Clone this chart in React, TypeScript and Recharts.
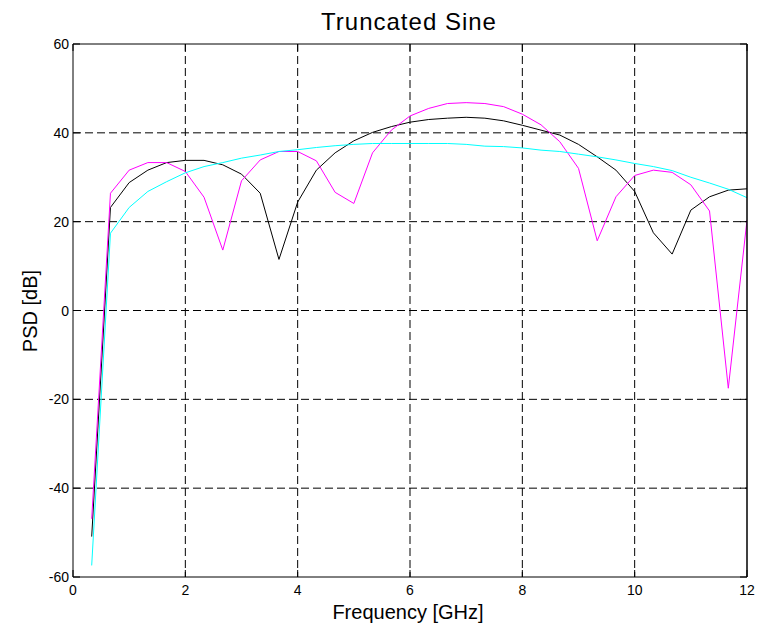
import React from 'react';
import { LineChart, Line, XAxis, YAxis, CartesianGrid } from 'recharts';

const freq = [0.333, 0.667, 1.0, 1.333, 1.667, 2.0, 2.333, 2.667, 3.0, 3.333, 3.667, 4.0, 4.333, 4.667, 5.0, 5.333, 5.667, 6.0, 6.333, 6.667, 7.0, 7.333, 7.667, 8.0, 8.333, 8.667, 9.0, 9.333, 9.667, 10.0, 10.333, 10.667, 11.0, 11.333, 11.667, 12.0];
const blackSeries = [-50.9, 23.2, 28.8, 31.6, 33.3, 33.8, 33.8, 32.8, 30.7, 26.4, 11.5, 24.4, 31.6, 35.5, 38.2, 40.1, 41.4, 42.4, 43.0, 43.3, 43.5, 43.3, 42.7, 41.7, 40.6, 39.5, 37.4, 34.6, 31.6, 26.8, 17.5, 12.7, 22.6, 25.6, 27.1, 27.4];
const magentaSeries = [-46.9, 26.4, 31.6, 33.3, 33.3, 31.3, 25.5, 13.6, 29.2, 33.9, 35.8, 35.8, 33.7, 26.6, 24.1, 35.5, 40.6, 43.8, 45.5, 46.6, 46.8, 46.6, 45.9, 44.2, 41.8, 38.0, 32.0, 15.7, 25.6, 30.4, 31.6, 31.1, 28.3, 22.4, -17.5, 20.4];
const cyanSeries = [-57.4, 17.4, 23.2, 26.8, 29.0, 31.0, 32.4, 33.3, 34.3, 35.0, 35.8, 36.2, 36.7, 37.1, 37.4, 37.6, 37.6, 37.6, 37.6, 37.6, 37.4, 37.0, 36.9, 36.6, 36.1, 35.8, 35.2, 34.6, 33.9, 33.1, 32.4, 31.5, 30.0, 28.7, 27.3, 25.4];
const xTicks = [0, 2, 4, 6, 8, 10, 12];
const yTicks = [-60, -40, -20, 0, 20, 40, 60];
const xGrid = [2, 4, 6, 8, 10];
const yGrid = [-40, -20, 0, 20, 40];

const data = freq.map((f, i) => ({ f, a: blackSeries[i], b: magentaSeries[i], c: cyanSeries[i] }));

const FONT = '"Liberation Sans", Arial, Helvetica, sans-serif';
const TL = 7;

const BottomTick = (p: any) => (
  <g>
    <line x1={p.x} y1={p.y} x2={p.x} y2={p.y - TL} stroke="#000" />
    <text x={p.x} y={p.y + 18} textAnchor="middle" fontSize={14} fontFamily={FONT} fill="#000">{p.payload.value}</text>
  </g>
);
const TopTick = (p: any) => (
  <line x1={p.x} y1={p.y} x2={p.x} y2={p.y + TL} stroke="#000" />
);
const LeftTick = (p: any) => (
  <g>
    <line x1={p.x} y1={p.y} x2={p.x + TL} y2={p.y} stroke="#000" />
    <text x={p.x - 4} y={p.y + 5} textAnchor="end" fontSize={14} fontFamily={FONT} fill="#000">{p.payload.value}</text>
  </g>
);
const RightTick = (p: any) => (
  <line x1={p.x} y1={p.y} x2={p.x - TL} y2={p.y} stroke="#000" />
);

export default function App() {
  return (
    <LineChart width={756} height={616} data={data} margin={{ top: 35, right: 16, left: 0, bottom: 17 }}>
      <CartesianGrid stroke="#000" strokeDasharray="8 4" horizontalValues={yGrid} verticalValues={xGrid} />
      <XAxis dataKey="f" type="number" domain={[0, 12]} ticks={xTicks} height={30} tickSize={0} tickMargin={0}
        tick={<BottomTick />} axisLine={{ stroke: '#000' }} interval={0} allowDataOverflow />
      <XAxis xAxisId="top" orientation="top" dataKey="f" type="number" domain={[0, 12]} ticks={xTicks} height={1}
        tickSize={0} tickMargin={0} tick={<TopTick />} axisLine={{ stroke: '#000' }} interval={0} allowDataOverflow />
      <YAxis type="number" domain={[-60, 60]} ticks={yTicks} width={65} tickSize={0} tickMargin={0}
        tick={<LeftTick />} axisLine={{ stroke: '#000' }} interval={0} allowDataOverflow />
      <YAxis yAxisId="right" orientation="right" type="number" domain={[-60, 60]} ticks={yTicks} width={1}
        tickSize={0} tickMargin={0} tick={<RightTick />} axisLine={{ stroke: '#000', strokeWidth: 1.5 }} interval={0} allowDataOverflow />
      <Line dataKey="a" stroke="#000000" strokeWidth={1} dot={false} isAnimationActive={false} />
      <Line dataKey="b" stroke="#ff00ff" strokeWidth={1} dot={false} isAnimationActive={false} />
      <Line dataKey="c" stroke="#00ffff" strokeWidth={1} dot={false} isAnimationActive={false} />
      <text x={401} y={22} textAnchor="middle" fontSize={24} letterSpacing={1} fontFamily={FONT} fill="#000">Truncated Sine</text>
      <text x={400} y={611} textAnchor="middle" fontSize={20} fontFamily={FONT} fill="#000">Frequency [GHz]</text>
      <text x={29} y={303} textAnchor="middle" fontSize={20} fontFamily={FONT} fill="#000" transform="rotate(-90 29 303)">PSD [dB]</text>
    </LineChart>
  );
}
